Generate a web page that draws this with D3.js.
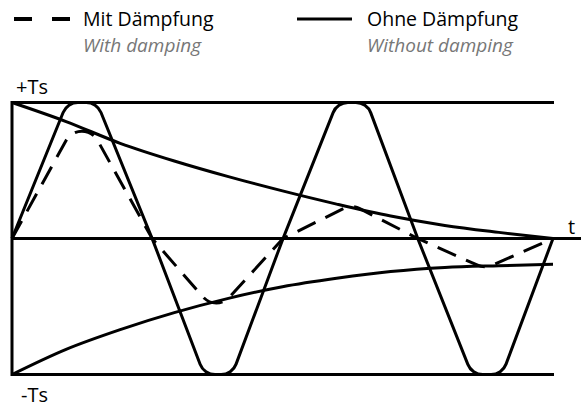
<!DOCTYPE html>
<html>
<head>
<meta charset="utf-8">
<script src="https://cdn.jsdelivr.net/npm/d3@7"></script>
<style>
  html, body { margin: 0; padding: 0; background: #fff; }
  svg { display: block; }
  text { font-family: "Open Sans", "DejaVu Sans", sans-serif; }
</style>
</head>
<body>
<script>
// ---- data (time in arbitrary units 0..10, value relative to Ts) ----
const undampedT   = [0, 1.02, 1.57, 2.59, 3.55, 4.07, 5.01, 6.01, 6.56, 7.50, 8.50, 9.06, 10];
const undampedV   = [0, 1, 1, 0, -1, -1, 0, 1, 1, 0, -1, -1, 0];
const dampedT     = [0, 1.29, 2.59, 3.77, 5.01, 6.28, 7.50, 8.74, 10];
const dampedV     = [0, 0.93, 0, -0.54, 0, 0.25, 0, -0.22, 0];
const envT        = [0, 1, 2, 3, 4, 5, 6, 7, 8, 9, 10];
const envUpper    = [1.0, 0.86, 0.70, 0.57, 0.455, 0.35, 0.253, 0.165, 0.096, 0.045, 0];
const envLower    = [-1.0, -0.815, -0.67, -0.545, -0.44, -0.355, -0.293, -0.243, -0.213, -0.20, -0.19];
const levelValues = [1, 0, -1];
const levelLabels = ["+Ts", "", "-Ts"];
const legendDe    = ["Mit Dämpfung", "Ohne Dämpfung"];
const legendEn    = ["With damping", "Without damping"];
const axisLabel   = "t";

const W = 581, H = 409;
const svg = d3.select("body").append("svg").attr("width", W).attr("height", H);

const x = d3.scaleLinear().domain([0, 10]).range([12, 553]);
const y = d3.scaleLinear().domain([-1, 1]).range([374.5, 102.5]);

const SW = 3;

// frame / level lines
svg.append("line").attr("x1", x(0)).attr("x2", x(0)).attr("y1", y(1) - SW/2).attr("y2", y(-1) + SW/2)
  .attr("stroke", "#000").attr("stroke-width", SW);
levelValues.forEach(v => {
  svg.append("line")
    .attr("x1", x(0)).attr("x2", v === 0 ? W : x(10) + 1)
    .attr("y1", y(v)).attr("y2", y(v))
    .attr("stroke", "#000").attr("stroke-width", SW);
});

// rounded polyline helper using d3.path arcTo
function roundedPath(pts, r) {
  const p = d3.path();
  p.moveTo(pts[0][0], pts[0][1]);
  for (let i = 1; i < pts.length - 1; i++) {
    p.arcTo(pts[i][0], pts[i][1], pts[i+1][0], pts[i+1][1], r);
  }
  const last = pts[pts.length - 1];
  p.lineTo(last[0], last[1]);
  return p.toString();
}

// envelopes
const envLine = d3.line().x(d => x(d[0])).y(d => y(d[1])).curve(d3.curveMonotoneX);
svg.append("path").attr("d", envLine(envT.map((t, i) => [t, envUpper[i]])))
  .attr("fill", "none").attr("stroke", "#000").attr("stroke-width", SW);
svg.append("path").attr("d", envLine(envT.map((t, i) => [t, envLower[i]])))
  .attr("fill", "none").attr("stroke", "#000").attr("stroke-width", SW);

// undamped wave
const uPts = undampedT.map((t, i) => [x(t), y(undampedV[i])]);
svg.append("path").attr("d", roundedPath(uPts, 16))
  .attr("fill", "none").attr("stroke", "#000").attr("stroke-width", SW)
  .attr("stroke-linejoin", "round");

// damped wave
const dPts = dampedT.map((t, i) => [x(t), y(dampedV[i])]);
svg.append("path").attr("d", roundedPath(dPts, 18))
  .attr("fill", "none").attr("stroke", "#000").attr("stroke-width", SW)
  .attr("stroke-dasharray", "20,11");

// labels
svg.append("text").attr("x", 16).attr("y", y(1) - 9).attr("font-size", 20).text(levelLabels[0]);
svg.append("text").attr("x", 21).attr("y", y(-1) + 27).attr("font-size", 20).text(levelLabels[2]);
svg.append("text").attr("x", 568).attr("y", y(0) - 5).attr("font-size", 20).text(axisLabel);

// legend
const lg = svg.append("g");
lg.append("line").attr("x1", 14).attr("x2", 32).attr("y1", 19).attr("y2", 19).attr("stroke", "#000").attr("stroke-width", 4);
lg.append("line").attr("x1", 52).attr("x2", 70).attr("y1", 19).attr("y2", 19).attr("stroke", "#000").attr("stroke-width", 4);
lg.append("line").attr("x1", 297).attr("x2", 352).attr("y1", 19).attr("y2", 19).attr("stroke", "#000").attr("stroke-width", 3);
const lx = [83, 367];
legendDe.forEach((t, i) => {
  lg.append("text").attr("x", lx[i]).attr("y", 26).attr("font-size", 19.5).attr("fill", "#000").text(t);
  lg.append("text").attr("x", lx[i]).attr("y", 52).attr("font-size", 19).attr("font-style", "italic").attr("fill", "#777").text(legendEn[i]);
});
</script>
</body>
</html>
